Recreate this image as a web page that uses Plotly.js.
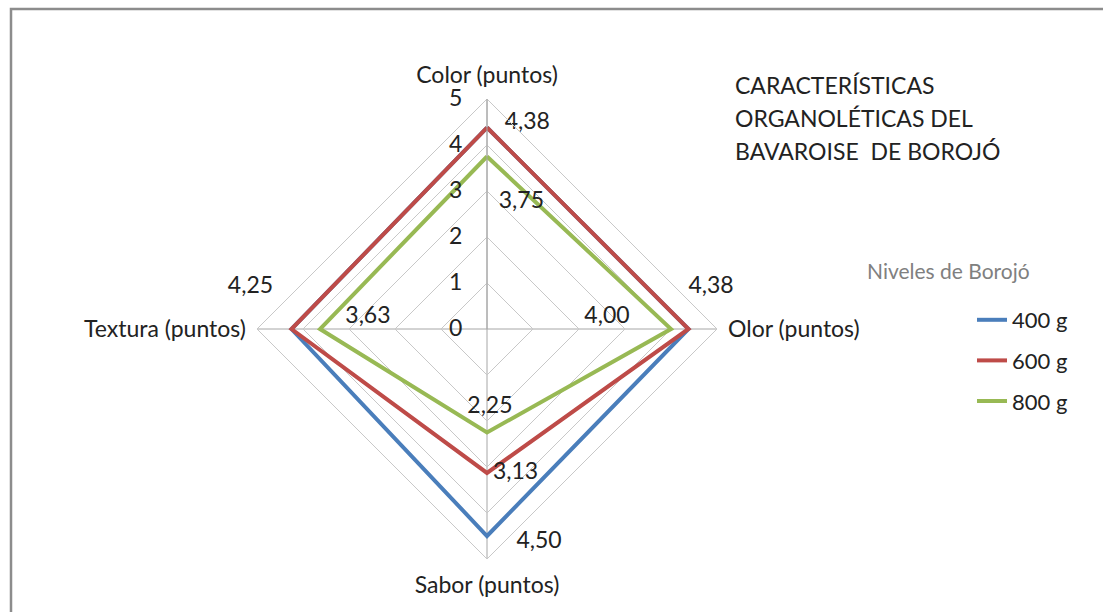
<!DOCTYPE html>
<html>
<head>
<meta charset="utf-8">
<script src="https://cdn.plot.ly/plotly-3.0.1.min.js"></script>
<style>html,body{margin:0;padding:0;background:#fff;}#chart{width:1103px;height:612px;}</style>
</head>
<body>
<div id="chart"></div>
<script>
// ---- data ----
const categories = ["Color (puntos)", "Olor (puntos)", "Sabor (puntos)", "Textura (puntos)"];
const seriesNames = ["400 g", "600 g", "800 g"];
const values400 = [4.38, 4.38, 4.50, 4.25];
const values600 = [4.38, 4.38, 3.13, 4.25];
const values800 = [3.75, 4.00, 2.25, 3.63];
const radialTicks = [0, 1, 2, 3, 4, 5];
const titleLines = ["CARACTERÍSTICAS", "ORGANOLÉTICAS DEL", "BAVAROISE&nbsp; DE BOROJÓ"];
const legendTitle = "Niveles de Borojó";

// ---- style ----
const FONT = "Lato, 'Open Sans', sans-serif";
const FS = 23;
const colors = ["#4A7EBB", "#BE4B48", "#98B954"];
const allValues = [values400, values600, values800];

const fmt = v => v.toFixed(2).replace(".", ",");

const traces = allValues.map((vals, i) => ({
  type: "scatterpolar",
  mode: "lines",
  name: seriesNames[i],
  legendgroup: "g" + i,
  r: vals.concat([vals[0]]),
  theta: categories.concat([categories[0]]),
  line: {color: colors[i], width: 4},
  hoverinfo: "skip"
}));

// data labels: series / category, text position, radial nudge, left padding, lift
const labelSpecs = [
  {s: 1, c: 0, pos: "middle right", dr: 0.1, pad: 3, lift: false},
  {s: 2, c: 0, pos: "middle right", dr: -1.0, pad: 2, lift: false},
  {s: 1, c: 1, pos: "top right", dr: 0.0, pad: 0, lift: true},
  {s: 2, c: 1, pos: "top left", dr: -0.9, pad: 0, lift: false},
  {s: 0, c: 2, pos: "middle right", dr: 0.13, pad: 5, lift: false},
  {s: 1, c: 2, pos: "middle right", dr: 0.0, pad: 1, lift: false},
  {s: 2, c: 2, pos: "top center", dr: -0.3, pad: 1, lift: false},
  {s: 1, c: 3, pos: "top left", dr: 0.4, pad: 0, lift: true},
  {s: 2, c: 3, pos: "top right", dr: -0.55, pad: 0, lift: false}
];
labelSpecs.forEach(sp => {
  const v = allValues[sp.s][sp.c];
  traces.push({
    type: "scatterpolar",
    mode: "text",
    r: [v + sp.dr],
    theta: [categories[sp.c]],
    text: ["&nbsp;".repeat(sp.pad) + fmt(v) + (sp.lift ? "<br> " : "")],
    textposition: sp.pos,
    textfont: {family: FONT, size: FS, color: "#222"},
    showlegend: false,
    hoverinfo: "skip"
  });
});

const annotations = titleLines.map((t, i) => ({
  xref: "paper", yref: "paper",
  x: 733 / 1103, y: 1 - (85 + 33 * i) / 612,
  xanchor: "left", yanchor: "middle",
  text: t, showarrow: false, align: "left",
  font: {family: FONT, size: FS, color: "#222"}
}));
annotations.push({
  xref: "paper", yref: "paper",
  x: 865 / 1103, y: 1 - 270 / 612,
  xanchor: "left", yanchor: "middle",
  text: legendTitle, showarrow: false,
  font: {family: FONT, size: 21, color: "#808080"}
});

const layout = {
  width: 1103, height: 612,
  margin: {l: 0, r: 0, t: 0, b: 0},
  paper_bgcolor: "#fff",
  font: {family: FONT, size: FS, color: "#222"},
  showlegend: true,
  legend: {
    x: 972 / 1103, y: 1 - 299 / 612, xanchor: "left", yanchor: "top",
    traceorder: "grouped", tracegroupgap: 9,
    font: {family: FONT, size: 22, color: "#222"},
    bgcolor: "rgba(0,0,0,0)"
  },
  polar: {
    domain: {x: [257 / 1103, 717 / 1103], y: [53 / 612, 513 / 612]},
    gridshape: "linear",
    bgcolor: "#fff",
    radialaxis: {
      range: [0, 5], tickvals: radialTicks, ticktext: radialTicks.map(String),
      angle: 90, side: "counterclockwise",
      showline: true, linecolor: "#a6a6a6", linewidth: 1,
      gridcolor: "#c8c8c8", gridwidth: 1,
      ticks: "outside", ticklen: 16, tickcolor: "rgba(0,0,0,0)",
      tickangle: 90,
      tickfont: {family: FONT, size: FS, color: "#222"}
    },
    angularaxis: {
      type: "category", categoryarray: categories,
      rotation: 90, direction: "clockwise",
      showline: true, linecolor: "#c8c8c8", linewidth: 1,
      gridcolor: "#a6a6a6", gridwidth: 1,
      ticks: "outside", ticklen: 6, tickcolor: "rgba(0,0,0,0)",
      tickfont: {family: FONT, size: FS, color: "#222"}
    }
  },
  annotations: annotations,
  shapes: [{
    type: "rect", xref: "paper", yref: "paper",
    x0: 11 / 1103, x1: 1.05, y0: -0.05, y1: 1 - 9 / 612,
    line: {color: "#8c8c8c", width: 2.5}, fillcolor: "rgba(0,0,0,0)", layer: "below"
  }]
};

Plotly.newPlot("chart", traces, layout, {displayModeBar: false, staticPlot: true});
</script>
</body>
</html>
